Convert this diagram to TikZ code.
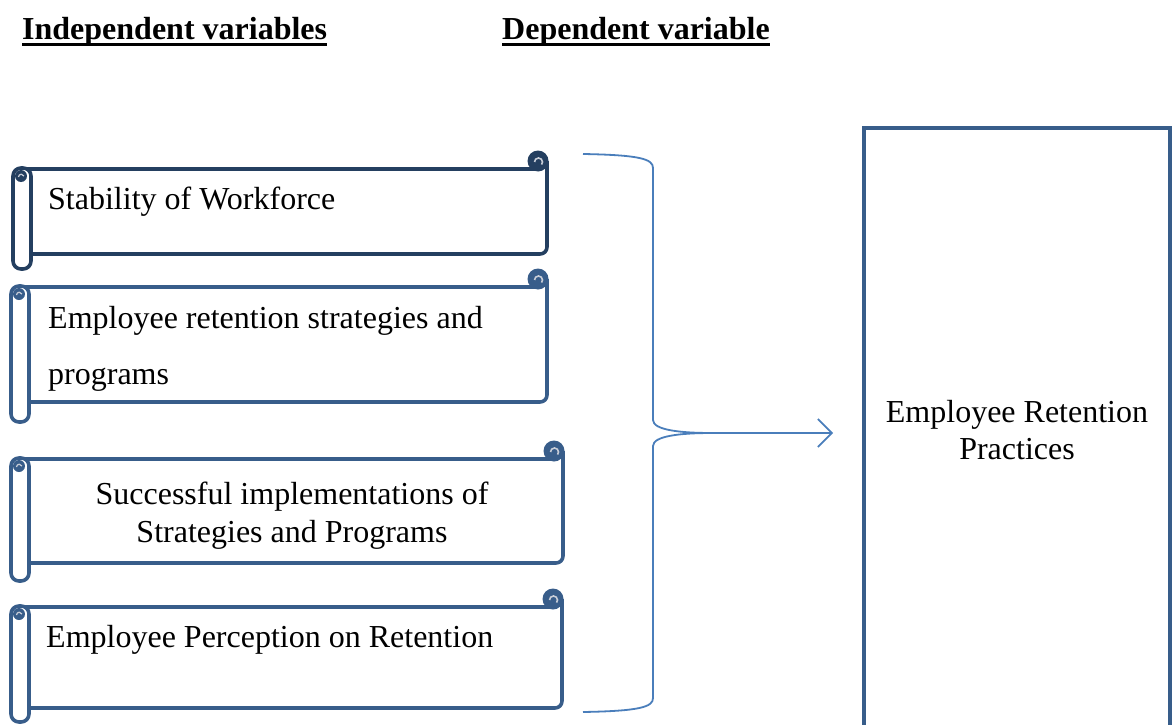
\documentclass[tikz,border=0pt]{standalone}
\usepackage{fontspec}
\setmainfont{Liberation Serif}
\usetikzlibrary{arrows.meta}
\definecolor{scrolldark}{HTML}{243F60}
\definecolor{scrollblue}{HTML}{385D8A}
\definecolor{bracecol}{HTML}{4A7EBB}
\definecolor{curllight}{HTML}{C9CED8}

% scroll: #1 colour, #2 left, #3 top, #4 right, #5 bottom, #6 roll bottom
\newcommand{\scrollshape}[6]{
  \draw[#1,line width=3.6pt] (#2,#3) -- (#4-9,#3);
  \draw[#1,line width=3.6pt,rounded corners=7pt] (#4,#3-8) -- (#4,#5) -- (#2,#5);
  \fill[#1] (#4-9,#3-8) circle (10.5pt);
  \draw[curllight,line width=1.6pt] ([shift={(-3.5pt,-1pt)}]#4-9,#3-8) arc[start angle=180,end angle=-40,radius=4pt];
  \draw[#1,line width=3.6pt,fill=white,rounded corners=8pt] (#2-9,#3-1) rectangle (#2+9,#6);
  \fill[#1] (#2-1,#3+7) circle (6pt);
  \draw[curllight,line width=1.2pt] ([shift={(-2.5pt,-1pt)}]#2-1,#3+7) arc[start angle=180,end angle=20,radius=2.8pt];
}

\begin{document}
\begin{tikzpicture}[x=1pt,y=-1pt]
\tikzstyle{heading}=[font=\fontsize{32}{38}\selectfont\bfseries,inner sep=0pt,anchor=base west]
\tikzstyle{scrolltext}=[font=\fontsize{32}{38}\selectfont,inner sep=0pt,anchor=base west]
\tikzstyle{bigbox}=[draw=scrollblue,line width=3.6pt,minimum width=306pt,minimum height=604pt,align=center,font=\fontsize{32}{37}\selectfont]
\tikzstyle{brace}=[bracecol,line width=1.8pt]
\useasboundingbox (0,0) rectangle (1172,725);
\clip (0,0) rectangle (1172,725);
% headings
\node[heading] (h_1) at (22,40) {Independent variables};
\node[heading] (h_2) at (502,40) {Dependent variable};
\draw[line width=3pt] ([yshift=-4.5pt]h_1.base west) -- ([yshift=-4.5pt]h_1.base east);
\draw[line width=3pt] ([yshift=-4.5pt]h_2.base west) -- ([yshift=-4.5pt]h_2.base east);
% scrolls
\scrollshape{scrolldark}{22}{169}{547}{254}{269}
\scrollshape{scrollblue}{20}{287}{547}{402}{422}
\scrollshape{scrollblue}{20}{459}{563}{563}{581}
\scrollshape{scrollblue}{20}{607}{562}{708}{722}
\node[scrolltext] (s_1) at (48,209) {Stability of Workforce};
\node[scrolltext] (s_2a) at (48,328) {Employee retention strategies and};
\node[scrolltext] (s_2b) at (48,384) {programs};
\node[scrolltext,align=center,anchor=center] (s_3) at (292,516) {Successful implementations of\\Strategies and Programs};
\node[scrolltext] (s_4) at (46,647) {Employee Perception on Retention};
% dependent variable
\node[bigbox] (erp) at (1017,430) {Employee Retention\\Practices};
% brace and arrow
\coordinate (tip) at (712,433);
\draw[brace] (583,154) .. controls (640,155) and (653,159) .. (653,168) -- (653,420)
  .. controls (653,430) and (680,433) .. (tip)
  .. controls (680,433) and (653,436) .. (653,446) -- (653,698)
  .. controls (653,707) and (640,711) .. (583,712);
\draw[brace,-{Straight Barb[length=14pt,width=28pt]},shorten >=29pt] (tip) -- (tip -| erp.west);
\end{tikzpicture}
\end{document}
